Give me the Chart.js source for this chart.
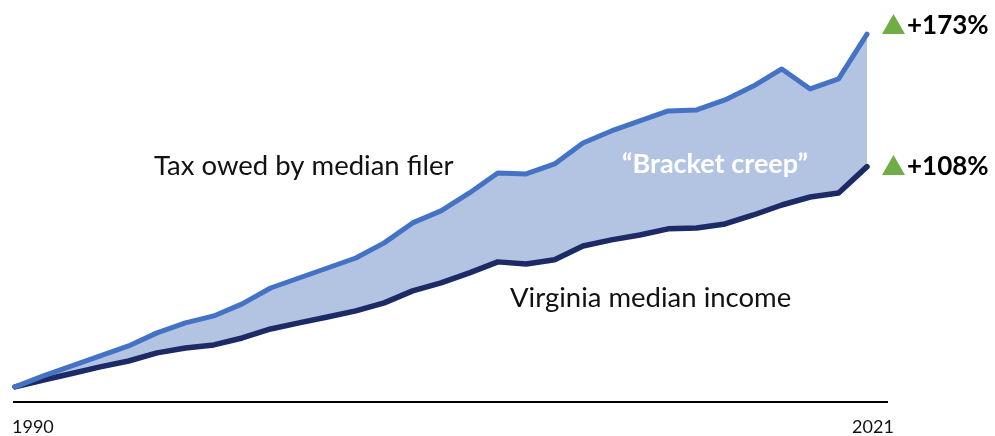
<!DOCTYPE html>
<html>
<head>
<meta charset="utf-8">
<script src="https://cdn.jsdelivr.net/npm/chart.js@4.4.1/dist/chart.umd.min.js"></script>
<style>
html,body{margin:0;padding:0;background:#fff;}
#wrap{width:995px;height:436px;position:relative;}
</style>
</head>
<body>
<div id="wrap"><canvas id="c"></canvas></div>
<script>
// Years (ACS has no 2020 1-year estimate)
const years = ["1990","1991","1992","1993","1994","1995","1996","1997","1998","1999","2000","2001","2002","2003","2004","2005","2006","2007","2008","2009","2010","2011","2012","2013","2014","2015","2016","2017","2018","2019","2021"];
// Cumulative % growth since 1990
const taxOwed = [0,5.4,10.3,15.2,20.1,26.5,31.4,34.8,40.7,48.5,53.4,58.3,63.2,70.6,80.4,86.3,95.1,104.9,104.4,109.3,119.6,125.5,130.4,135.3,135.8,140.7,147.5,155.9,146.1,151.0,173.0];
const medianIncome = [0,3.4,6.6,9.8,12.7,16.7,19.1,20.6,24.0,28.4,31.4,34.3,37.3,41.2,47.1,51.0,55.9,61.3,60.3,62.3,69.1,72.1,74.5,77.5,77.9,79.9,84.3,89.2,93.1,95.1,108.0];
const tickLabels = ["1990","2021"];
const seriesNames = ["Tax owed by median filer","Virginia median income"];
const endLabels = ["+173%","+108%"];
const gapLabel = "\u201CBracket creep\u201D";

const annot = {
  id:'annot',
  afterDraw(chart){
    const ctx = chart.ctx, x = chart.scales.x;
    const last = years.length-1;
    const x0 = x.getPixelForValue(0), xN = x.getPixelForValue(last);
    ctx.save();
    // baseline
    ctx.strokeStyle = '#000'; ctx.lineWidth = 2;
    ctx.beginPath(); ctx.moveTo(x0-2, 402); ctx.lineTo(xN+21, 402); ctx.stroke();
    // tick labels
    ctx.fillStyle = '#111';
    ctx.font = '18px Lato';
    ctx.textBaseline = 'alphabetic';
    ctx.textAlign = 'left';
    ctx.fillText(tickLabels[0], x0-3, 433);
    ctx.textAlign = 'center';
    ctx.fillText(tickLabels[1], xN+6, 433);
    // series labels
    ctx.font = '27.5px Lato';
    ctx.textAlign = 'left';
    ctx.fillText(seriesNames[0], 154, 175);
    ctx.fillText(seriesNames[1], 510, 307);
    // bracket creep
    ctx.font = 'bold 27px Lato';
    ctx.fillStyle = '#fff';
    ctx.textAlign = 'center';
    ctx.fillText(gapLabel, 715, 173);
    // end labels with triangles
    const ys = [24, 165];
    for (let i=0;i<2;i++){
      const cy = ys[i];
      ctx.fillStyle = '#70AD47';
      ctx.beginPath();
      ctx.moveTo(882, cy+10); ctx.lineTo(905, cy+10); ctx.lineTo(893.5, cy-10); ctx.closePath(); ctx.fill();
      ctx.fillStyle = '#000';
      ctx.font = 'bold 26px Lato';
      ctx.textAlign = 'left';
      ctx.fillText(endLabels[i], 907, cy+10);
    }
    ctx.restore();
  }
};

new Chart(document.getElementById('c'), {
  type:'line',
  data:{
    labels: years,
    datasets:[
      {label: seriesNames[0], data: taxOwed, borderColor:'#4472C4', borderWidth:5, pointRadius:0, tension:0,
       fill:{target:1}, backgroundColor:'#B3C4E3', borderCapStyle:'round', borderJoinStyle:'round'},
      {label: seriesNames[1], data: medianIncome, borderColor:'#1C2A66', borderWidth:5.5, pointRadius:0, tension:0,
       fill:false, borderCapStyle:'round', borderJoinStyle:'round'}
    ]
  },
  options:{
    responsive:true, maintainAspectRatio:false, animation:false,
    clip:false,
    layout:{padding:{left:15, right:128, top:0, bottom:34}},
    plugins:{legend:{display:false}, tooltip:{enabled:false}, filler:{drawTime:'beforeDatasetsDraw'}},
    scales:{
      x:{display:false, offset:false},
      y:{display:false, min:-7.4, max:189.7}
    }
  },
  plugins:[annot]
});
</script>
</body>
</html>
